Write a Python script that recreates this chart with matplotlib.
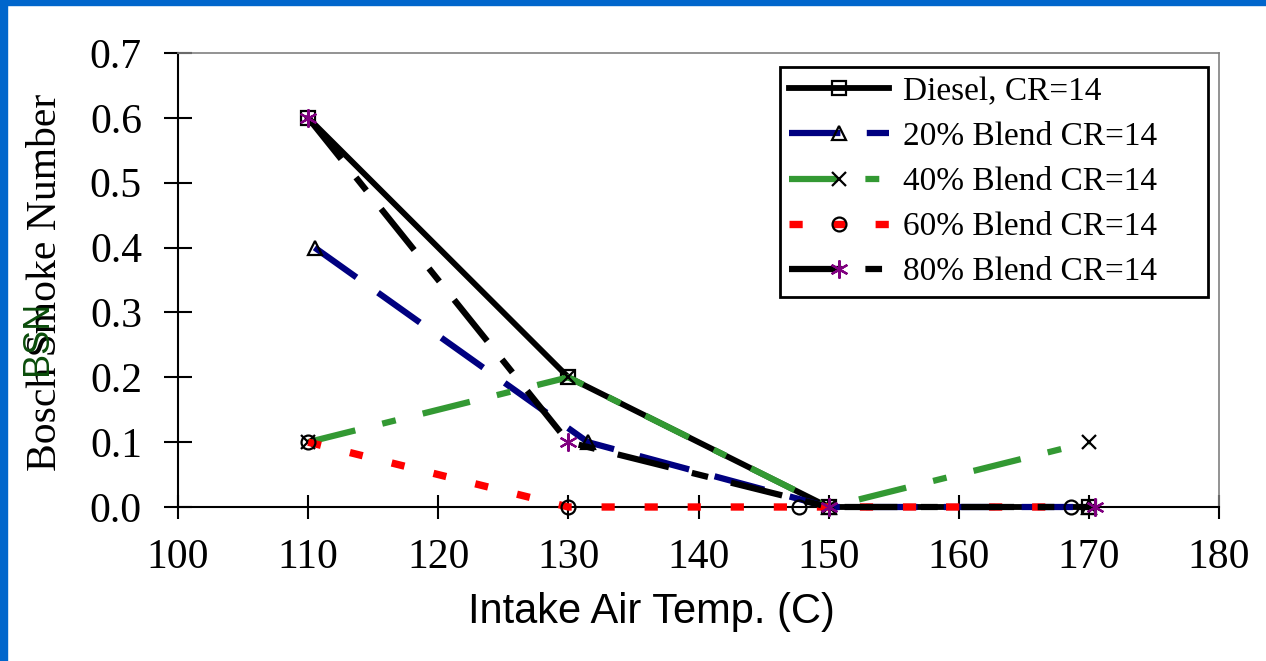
import matplotlib
matplotlib.use("Agg")
import matplotlib.pyplot as plt
from matplotlib.patches import Rectangle

# data (intake air temp in C, Bosch smoke number)
temp_diesel = [110, 130, 150, 170]
bsn_diesel = [0.6, 0.2, 0.0, 0.0]
temp_20 = [110.5, 131.5, 150, 170]
bsn_20 = [0.4, 0.1, 0.0, 0.0]
temp_40 = [110, 130, 150, 170]
bsn_40 = [0.1, 0.2, 0.0, 0.1]
temp_60 = [110, 130, 147.7, 168.6]
bsn_60 = [0.1, 0.0, 0.0, 0.0]
temp_80 = [110, 130, 150, 170.5]
bsn_80 = [0.6, 0.1, 0.0, 0.0]
labels = ["Diesel, CR=14", "20% Blend CR=14", "40% Blend CR=14",
          "60% Blend CR=14", "80% Blend CR=14"]
xticks = [100, 110, 120, 130, 140, 150, 160, 170, 180]
yticks = [0.0, 0.1, 0.2, 0.3, 0.4, 0.5, 0.6, 0.7]

plt.rcParams["lines.scale_dashes"] = False
SERIF = "Liberation Serif"
SANS = "Liberation Sans"

W, H = 1266, 661
fig = plt.figure(figsize=(W / 100, H / 100), dpi=100)
ax = fig.add_axes([178 / W, 1 - 507 / H, (1219 - 178) / W, (507 - 53) / H])

# slide border (left and top strips)
fig.patches.append(Rectangle((0, 0), 7 / W, 1, transform=fig.transFigure,
                             color="#0066cc", zorder=0))
fig.patches.append(Rectangle((0, 1 - 5 / H), 1, 5 / H, transform=fig.transFigure,
                             color="#0066cc", zorder=0))

kw = dict(clip_on=False, zorder=3, markersize=10, markeredgewidth=1.6)
ax.plot(temp_diesel, bsn_diesel, "-", color="black", lw=4.2, marker="s",
        mfc="none", mec="black", label=labels[0], **kw)
ax.plot(temp_20, bsn_20, color="#000080", lw=4.5, ls=(0, (37, 19)),
        marker="^", mfc="none", mec="black", label=labels[1], **kw)
ax.plot(temp_40, bsn_40, color="#339933", lw=4.5, ls=(0, (35, 20, 10, 20)),
        marker="x", mec="black", label=labels[2], **kw)
ax.plot(temp_60, bsn_60, color="#ff0000", lw=5.3, ls=(0, (9.5, 21.5)),
        marker="o", mfc="none", mec="black", label=labels[3], **kw)
kw80 = dict(kw, markersize=13)
ax.plot(temp_80, bsn_80, color="black", lw=4.5, ls=(0, (38, 17, 12, 17)),
        marker=(6, 2, 0), mec="#800080", label=labels[4], **kw80)

ax.set_xlim(100, 180)
ax.set_ylim(0, 0.7)
ax.set_xticks(xticks)
ax.set_yticks(yticks)
ax.set_xticklabels([str(t) for t in xticks], family=SERIF, fontsize=30)
ax.set_yticklabels([f"{t:.1f}" for t in yticks], family=SERIF, fontsize=30)
ax.tick_params(axis="y", direction="inout", length=20, width=1.5, pad=16)
ax.tick_params(axis="x", direction="inout", length=17, width=1.5, pad=14)

for s in ("left", "bottom"):
    ax.spines[s].set_color("black")
    ax.spines[s].set_linewidth(1.5)
for s in ("top", "right"):
    ax.spines[s].set_color("#808080")
    ax.spines[s].set_linewidth(1.2)

fig.text(651 / W, 1 - 612 / H, "Intake Air Temp. (C)", family=SANS,
         fontsize=30, ha="center", va="center")
fig.text(46 / W, 1 - 282 / H, "Bosch Smoke Number", family=SERIF,
         fontsize=30, rotation=90, ha="center", va="center")
fig.text(37 / W, 1 - 338 / H, "BSN", family=SANS, fontsize=26,
         color="#0b4d0b", rotation=90, ha="center", va="center")

leg = ax.legend(loc="upper left",
                bbox_to_anchor=(780 / W, 1 - 67 / H, (1208 - 780) / W, 0),
                bbox_transform=fig.transFigure, borderaxespad=0, mode="expand",
                prop={"family": SERIF, "size": 24}, numpoints=1,
                handlelength=3.0, handletextpad=0.4, borderpad=0.28,
                labelspacing=0.44, fancybox=False, framealpha=1)
leg.get_frame().set_edgecolor("black")
leg.get_frame().set_linewidth(2)

fig.savefig("out.png", dpi=100)
